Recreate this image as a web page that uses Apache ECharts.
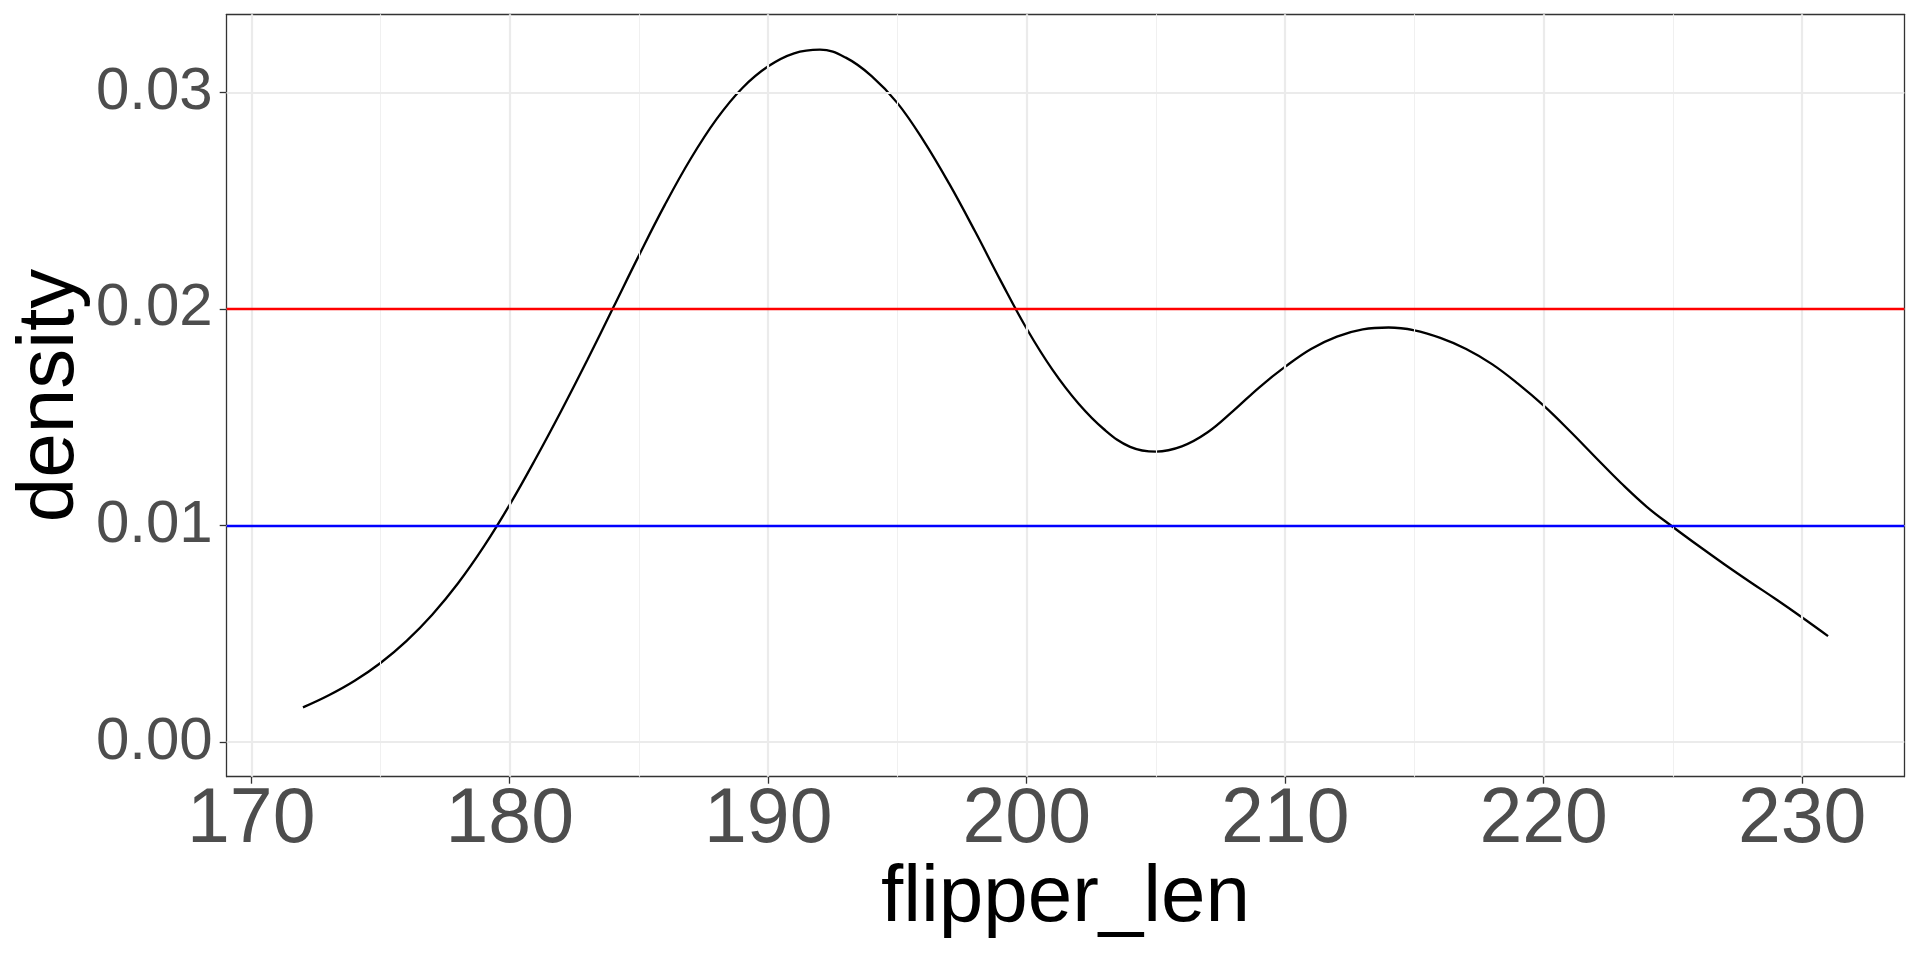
<!DOCTYPE html>
<html>
<head>
<meta charset="utf-8">
<script src="https://cdn.jsdelivr.net/npm/echarts@6/dist/echarts.min.js"></script>
<style>
html,body{margin:0;padding:0;background:#fff;}
#chart{width:1920px;height:960px;}
</style>
</head>
<body>
<div id="chart"></div>
<script>
// ---- data ----
const flipperLen = [172,173,174,175,176,177,178,179,180,181,182,183,184,185,186,187,188,189,190,191,192,193,194,195,196,197,198,199,200,201,202,203,204,205,206,207,208,209,210,211,212,213,214,215,216,217,218,219,220,221,222,223,224,225,226,227,228,229,230,231];
const density = [0.00160,0.00216,0.00283,0.00365,0.00466,0.00588,0.00733,0.00903,0.01096,0.01308,0.01531,0.01764,0.02005,0.02247,0.02480,0.02693,0.02876,0.03020,0.03120,0.03180,0.03197,0.03160,0.03075,0.02950,0.02778,0.02578,0.02358,0.02128,0.01908,0.01718,0.01563,0.01443,0.01363,0.01341,0.01365,0.01430,0.01530,0.01638,0.01733,0.01815,0.01872,0.01905,0.01914,0.01901,0.01866,0.01815,0.01745,0.01655,0.01553,0.01437,0.01315,0.01195,0.01085,0.00993,0.00905,0.00820,0.00738,0.00658,0.00575,0.00489];
const hlineRed = [0.02];
const hlineBlue = [0.01];
const xMajorTicks = [170,180,190,200,210,220,230];
const xMinorTicks = [175,185,195,205,215,225];
const yMajorTicks = [0,0.01,0.02,0.03];
const yMinorTicks = [0.005,0.015,0.025];
const xRange = [169.05, 233.95];
const yRange = [-0.0016, 0.0336];

const FONT = '"Liberation Sans", Arial, Helvetica, sans-serif';
const chart = echarts.init(document.getElementById('chart'), null, {renderer:'canvas'});

const vMark = (vals, w, c) => vals.map(v => ({xAxis: v, lineStyle:{color:c, width:w, type:'solid'}}));
const hMark = (vals, w, c) => vals.map(v => ({yAxis: v, lineStyle:{color:c, width:w, type:'solid'}}));

const option = {
  animation: false,
  backgroundColor: '#ffffff',
  grid: {left: 226.7, right: 15.7, top: 14.3, bottom: 183.3, containLabel: false, outerBoundsMode: 'none', show: false},
  xAxis: [{
    type: 'value', min: xRange[0], max: xRange[1],
    name: 'flipper_len', nameLocation: 'middle', nameGap: 82, nameMoveOverlap: false,
    nameTextStyle: {fontSize: 80, color: '#000000', fontFamily: FONT},
    axisLine: {show: true, onZero: false, lineStyle: {color: '#333333', width: 1.3}},
    axisTick: {show: true, length: 7, inside: false, customValues: xMajorTicks, lineStyle: {color: '#333333', width: 1.3}},
    axisLabel: {show: true, customValues: xMajorTicks, margin: 6, fontSize: 77, color: '#4D4D4D', fontFamily: FONT,
      formatter: v => (Math.abs(v/10 - Math.round(v/10)) < 1e-9 ? String(Math.round(v)) : '')},
    splitLine: {show: false}, minorSplitLine: {show: false}
  },{
    type: 'value', min: xRange[0], max: xRange[1], position: 'top',
    axisLine: {show: true, onZero: false, lineStyle: {color: '#333333', width: 1.3}},
    axisTick: {show: false}, axisLabel: {show: false}, splitLine: {show: false}
  }],
  yAxis: [{
    type: 'value', min: yRange[0], max: yRange[1],
    name: 'density', nameLocation: 'middle', nameGap: 136, nameMoveOverlap: false,
    nameTextStyle: {fontSize: 80, color: '#000000', fontFamily: FONT},
    axisLine: {show: true, onZero: false, lineStyle: {color: '#333333', width: 1.3}},
    axisTick: {show: true, length: 7, inside: false, customValues: yMajorTicks, lineStyle: {color: '#333333', width: 1.3}},
    axisLabel: {show: true, customValues: yMajorTicks, margin: 14, fontSize: 60, color: '#4D4D4D', fontFamily: FONT,
      formatter: v => {
        const k = v / 0.01;
        return Math.abs(k - Math.round(k)) < 1e-6 ? (Math.round(k) * 0.01).toFixed(2) : '';
      }},
    splitLine: {show: false}, minorSplitLine: {show: false}
  },{
    type: 'value', min: yRange[0], max: yRange[1], position: 'right',
    axisLine: {show: true, onZero: false, lineStyle: {color: '#333333', width: 1.3}},
    axisTick: {show: false}, axisLabel: {show: false}, splitLine: {show: false}
  }],
  series: [
    {
      name: 'grid', type: 'line', data: [], z: 1, silent: true,
      xAxisIndex: 0, yAxisIndex: 0,
      markLine: {
        silent: true, symbol: ['none','none'], label: {show: false}, animation: false,
        data: [].concat(
          vMark(xMinorTicks, 1.1, '#F0F0F0'),
          hMark(yMinorTicks, 1.1, '#F0F0F0'),
          vMark(xMajorTicks, 2.2, '#EBEBEB'),
          hMark(yMajorTicks, 2.2, '#EBEBEB')
        )
      }
    },
    {
      name: 'density', type: 'line', z: 3, silent: true,
      xAxisIndex: 0, yAxisIndex: 0,
      data: flipperLen.map((x, i) => [x, density[i]]),
      showSymbol: false, symbol: 'none', smooth: 0.4,
      lineStyle: {color: '#000000', width: 2.3}
    },
    {
      name: 'hlines', type: 'line', data: [], z: 4, silent: true,
      xAxisIndex: 0, yAxisIndex: 0,
      markLine: {
        silent: true, symbol: ['none','none'], label: {show: false}, animation: false,
        data: [].concat(hMark(hlineRed, 2.3, '#FF0000'), hMark(hlineBlue, 2.3, '#0000FF'))
      }
    }
  ]
};
chart.setOption(option);
</script>
</body>
</html>
